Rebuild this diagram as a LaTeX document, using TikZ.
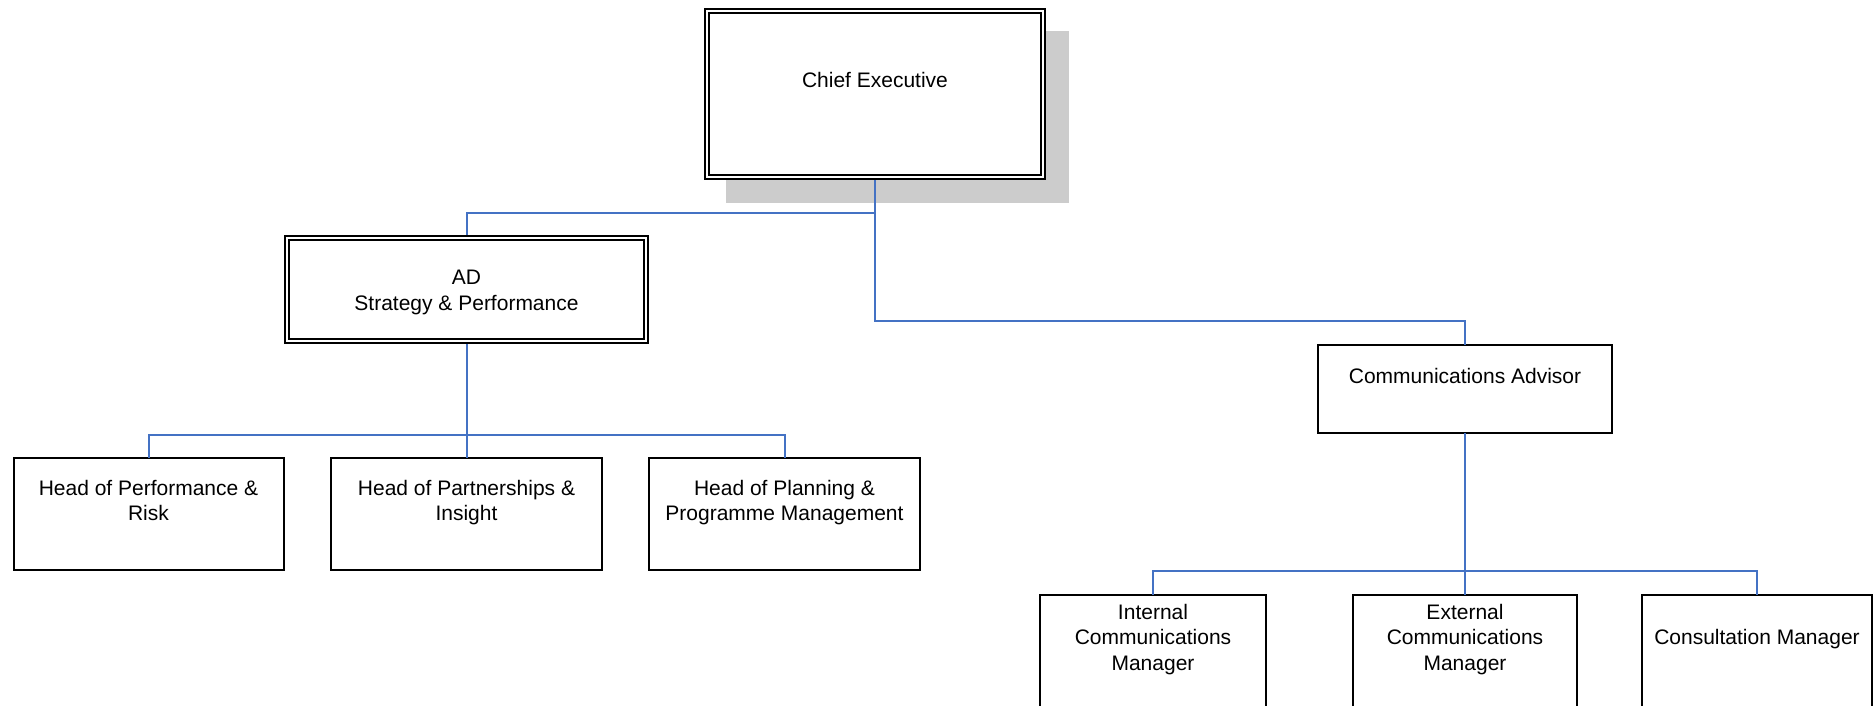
\documentclass[tikz,border=0pt]{standalone}
\usepackage{fontspec}
\setmainfont{Liberation Sans}
\definecolor{connblue}{HTML}{4472C4}
\definecolor{shadowgray}{HTML}{CCCCCC}
\tikzset{
  box/.style={draw=black, line width=1.6pt, fill=white, rectangle, inner sep=0pt, outer sep=0pt},
  dbox/.style={draw=black, line width=2.2pt, double=white, double distance=2pt, fill=white, rectangle, inner sep=0pt, outer sep=0pt},
  shadowbox/.style={fill=shadowgray, draw=none, rectangle, inner sep=0pt, outer sep=0pt},
  lbl/.style={anchor=base, align=center, inner sep=0pt, font=\fontsize{21}{25.5}\selectfont},
  conn/.style={draw=connblue, line width=2pt}
}
\begin{document}
\begin{tikzpicture}[x=1pt,y=-1pt]
\useasboundingbox (0,0) rectangle (1874,706);
\clip (0,0) rectangle (1874,706);
% bus levels
\coordinate (bus0) at (0,213);
\coordinate (bus1) at (0,321);
\coordinate (bus2) at (0,435);
\coordinate (bus3) at (0,571);
% shadow of chief executive
\node[shadowbox, minimum width=343pt, minimum height=172pt] (ceshadow) at (897.5,117) {};
% boxes (positions only)
\node[dbox, minimum width=335.6pt, minimum height=165.6pt] (ce) at (875,94) {};
\node[dbox, minimum width=358.6pt, minimum height=102.6pt] (ad) at (466.5,289.5) {};
\node[box, minimum width=294.4pt, minimum height=88.4pt] (ca) at (1465,389) {};
\node[box, minimum width=270.4pt, minimum height=112.4pt] (l1) at (149,514) {};
\node[box, minimum width=271.4pt, minimum height=112.4pt] (l2) at (466.5,514) {};
\node[box, minimum width=271.4pt, minimum height=112.4pt] (l3) at (784.5,514) {};
\node[box, minimum width=226.4pt, minimum height=160pt] (r1) at (1153,674.8) {};
\node[box, minimum width=224.4pt, minimum height=160pt] (r2) at (1465,674.8) {};
\node[box, minimum width=230.4pt, minimum height=160pt] (r3) at (1757,674.8) {};
% connectors
\draw[conn] (ce.south) -- (ce.south |- bus1) -| (ca.north);
\draw[conn] (ce.south |- bus0) -| (ad.north);
\draw[conn] (ad.south) -- (l2.north);
\draw[conn] (l1.north) |- (l3.north |- bus2) -- (l3.north);
\draw[conn] (ca.south) -- (r2.north);
\draw[conn] (r1.north) |- (r3.north |- bus3) -- (r3.north);
% redraw boxes on top of connectors
\path[dbox] (ce.south west) rectangle (ce.north east);
\path[dbox] (ad.south west) rectangle (ad.north east);
% labels (base anchor = baseline of last line)
\node[lbl] (ceT) at (875,88) {Chief Executive};
\node[lbl] (adT) at (466.5,310) {AD\\Strategy \& Performance};
\node[lbl] (caT) at (1465,383) {Communications Advisor};
\node[lbl] (l1T) at (148.5,520.5) {Head of Performance \&\\Risk};
\node[lbl] (l2T) at (466.5,520.5) {Head of Partnerships \&\\Insight};
\node[lbl] (l3T) at (784.5,520.5) {Head of Planning \&\\Programme Management};
\node[lbl] (r1T) at (1153,670) {Internal\\Communications\\Manager};
\node[lbl] (r2T) at (1465,670) {External\\Communications\\Manager};
\node[lbl] (r3T) at (1757,644) {Consultation Manager};
\end{tikzpicture}
\end{document}
